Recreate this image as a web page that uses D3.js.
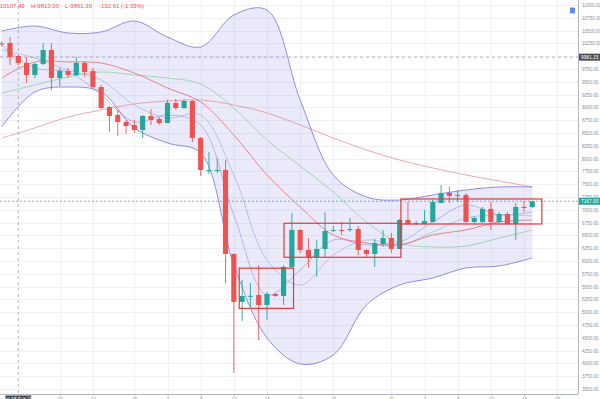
<!DOCTYPE html>
<html>
<head>
<meta charset="utf-8">
<script src="https://cdn.jsdelivr.net/npm/d3@7"></script>
<style>
html, body { margin: 0; padding: 0; background: #fff; overflow: hidden; }
svg { display: block; font-family: "Liberation Sans", Arial, sans-serif; }
</style>
</head>
<body>
<svg id="chart" width="600" height="399"></svg>
<script>
// daily candles, 13 Feb .. 17 Apr
var opens  = [10250,10258,10004,9867,9633,9848,10121,9574,9711,9633,9867,9711,9399,9008,8852,8715,8656,8559,8832,8774,
              8695,9086,8988,9125,8403,7758,7758,7778,6137,5200,5305,5336,5141,5356,5317,5883,6606,6215,6078,6235,
              6590,6606,6610,6625,6215,6137,6332,6449,6235,6801,6723,6723,6762,7133,7328,7280,7290,6762,6762,7016,
              6762,6918,6723,7055,7055];
var highs  = [10290,10375,10023,9984,9867,10258,10258,9770,9770,9984,9906,9770,9438,9027,8949,8754,8754,8852,8969,8813,
              9145,9164,9145,9145,8420,8129,8012,7973,6150,5629,5571,5922,5395,5375,5922,6938,6625,6449,6410,6957,
              6684,6762,6840,6684,6235,6430,6606,6547,6821,7153,6780,6996,7192,7485,7445,7387,7328,6870,7055,7153,
              6957,6957,7133,7172,7172];
var lows   = [10190,9828,9828,9477,9574,9828,9340,9418,9574,9613,9594,9379,8969,8520,8442,8481,8500,8403,8656,8656,
              8695,8949,8969,8324,7660,7699,7719,5571,3813,4829,5102,4457,4848,5297,5141,5864,6150,5864,5688,6078,
              6567,6508,6567,6118,6059,5883,6274,6157,6235,6703,6700,6703,6762,7133,7133,7153,6743,6740,6740,6606,
              6743,6703,6414,6957,7036];
var closes = [10230,9984,9867,9633,9848,10121,9574,9711,9633,9867,9691,9399,8988,8832,8715,8637,8559,8832,8754,8695,
              9086,8988,9125,8403,7778,7778,7778,6137,5200,5317,5320,5141,5356,5317,5883,6606,6215,6078,6235,6586,
              6606,6590,6625,6215,6137,6352,6449,6235,6801,6723,6740,6781,7153,7328,7270,7290,6762,6840,7016,6762,
              6918,6723,7055,7040,7167];

// indicator lines, sampled every 4 candles
var lineIdx   = [0,4,8,12,16,20,24,28,32,36,40,44,48,52,56,60,64];
var bbUpper   = [10492,10590,10453,10473,10687,10375,10180,10805,10902,9145,7680,7250,7192,7290,7387,7446,7446];
var bbLower   = [8617,9301,9398,9301,8598,8305,8109,5922,4497,3989,4165,5141,5531,5668,5864,5903,6059];
var bbMiddle  = [9574,9887,9887,9867,9672,9379,9106,8461,7680,7055,6508,6352,6313,6508,6606,6762,6801];
var maFast    = [10219,9770,9692,9242,8715,8852,8656,6899,5336,5824,6410,6313,6371,6762,7094,6899,6957];
var maSlow    = [10121,9965,9730,9535,9047,8793,8852,7680,6020,5531,6117,6410,6313,6567,6840,6899,6879];
var maGreen   = [9281,9438,9594,9692,9633,9574,9457,8988,8363,7855,7348,6762,6352,6274,6293,6449,6606];
var maLong    = [8402,8598,8813,8949,9067,9125,9145,9047,8891,8656,8402,8168,7973,7817,7680,7563,7446];

// marked ranges (candle index from/to, price top/bottom)
var boxes = [
        {from: 28.65, to: 35.2,  top: 5860, bottom: 5075},
        {from: 34.05, to: 48.15, top: 6737, bottom: 6073},
        {from: 48.15, to: 65.15, top: 7211, bottom: 6723}
];

var priceTicks = d3.range(3500, 11001, 250);
var dateTicks  = [7, 11, 16, 20, 24, 28, 32, 36, 40, 47, 51, 55, 59, 63, 67];
var startDate  = new Date(2020, 1, 13);

var crossIdx   = 2;
var crossPrice = 9981.15;
var header     = ["O-10107.49", "H-9813.00", "L-9861.30", "-132.61 (-1.33%)"];
var headerX    = [-7, 31, 65, 99];

var upColor   = "#26a69a";
var downColor = "#ef5350";

var svg = d3.select("#chart");
var plotR = 578, plotB = 394;

var x = d3.scaleLinear().domain([0, 64]).range([1.7, 532.3]);
var y = d3.scaleLinear().domain([3500, 11000]).range([389, 5]);

svg.append("defs").append("clipPath").attr("id", "plot")
        .append("rect").attr("x", 0).attr("y", 0).attr("width", plotR).attr("height", plotB);

/* grid */
var grid = svg.append("g").attr("clip-path", "url(#plot)");
grid.selectAll(".hg").data(priceTicks).enter().append("line")
        .attr("x1", 0).attr("x2", plotR)
        .attr("y1", function(d) { return Math.round(y(d)) + 0.5; })
        .attr("y2", function(d) { return Math.round(y(d)) + 0.5; })
        .attr("stroke", "#f0f1f4").attr("stroke-width", 1);
grid.selectAll(".vg").data(dateTicks).enter().append("line")
        .attr("x1", function(d) { return Math.round(x(d)) + 0.5; })
        .attr("x2", function(d) { return Math.round(x(d)) + 0.5; })
        .attr("y1", 0).attr("y2", plotB)
        .attr("stroke", "#f0f1f4").attr("stroke-width", 1);

var g = svg.append("g").attr("clip-path", "url(#plot)");

/* bollinger band */
var area = d3.area()
        .x(function(d, i) { return x(lineIdx[i]); })
        .y0(function(d, i) { return y(bbLower[i]); })
        .y1(function(d, i) { return y(bbUpper[i]); })
        .curve(d3.curveCatmullRom);
g.append("path").datum(lineIdx).attr("d", area)
        .attr("fill", "#7474dc").attr("fill-opacity", 0.15);

function drawLine(vals, color, width) {
        var line = d3.line()
                .x(function(d, i) { return x(lineIdx[i]); })
                .y(function(d) { return y(d); })
                .curve(d3.curveCatmullRom);
        g.append("path").datum(vals).attr("d", line)
                .attr("fill", "none").attr("stroke", color).attr("stroke-width", width);
}

drawLine(maLong, "#e8909c", 0.8);
drawLine(maGreen, "#8fcf9f", 0.8);
drawLine(maSlow, "#a9b9d6", 0.8);
drawLine(maFast, "#a6a3e6", 0.8);
drawLine(bbMiddle, "#e36a6a", 0.8);
drawLine(bbUpper, "#6262da", 0.7);
drawLine(bbLower, "#6262da", 0.7);

/* crosshair + last price line */
g.append("line").attr("x1", 0).attr("x2", plotR)
        .attr("y1", y(crossPrice)).attr("y2", y(crossPrice))
        .attr("stroke", "#9598a1").attr("stroke-width", 0.7).attr("stroke-dasharray", "3,3");
g.append("line").attr("x1", x(crossIdx)).attr("x2", x(crossIdx))
        .attr("y1", 0).attr("y2", plotB)
        .attr("stroke", "#9598a1").attr("stroke-width", 0.7).attr("stroke-dasharray", "3,3");
var last = closes[closes.length - 1];
g.append("line").attr("x1", 0).attr("x2", plotR)
        .attr("y1", y(last)).attr("y2", y(last))
        .attr("stroke", upColor).attr("stroke-width", 0.7).attr("stroke-dasharray", "2,2");

/* candles */
var bw = (x(1) - x(0)) * 0.62;
var idx = d3.range(opens.length);
function col(i) { return closes[i] >= opens[i] ? upColor : downColor; }

g.selectAll(".wick").data(idx).enter().append("line")
        .attr("x1", function(i) { return x(i); })
        .attr("x2", function(i) { return x(i); })
        .attr("y1", function(i) { return y(highs[i]); })
        .attr("y2", function(i) { return y(lows[i]); })
        .attr("stroke", col).attr("stroke-width", 0.9);

g.selectAll(".body").data(idx).enter().append("rect")
        .attr("x", function(i) { return x(i) - bw / 2; })
        .attr("y", function(i) { return y(Math.max(opens[i], closes[i])); })
        .attr("width", bw)
        .attr("height", function(i) { return Math.max(1, Math.abs(y(opens[i]) - y(closes[i]))); })
        .attr("fill", col);

/* boxes */
g.selectAll(".box").data(boxes).enter().append("rect")
        .attr("x", function(d) { return x(d.from); })
        .attr("y", function(d) { return y(d.top); })
        .attr("width", function(d) { return x(d.to) - x(d.from); })
        .attr("height", function(d) { return y(d.bottom) - y(d.top); })
        .attr("fill", "none").attr("stroke", "#e0393e").attr("stroke-width", 1.2);

/* axes */
var shownTicks = priceTicks.filter(function(d) { return Math.abs(y(d) - y(crossPrice)) > 4; });
var yAxis = d3.axisRight(y).tickValues(shownTicks).tickSize(0).tickPadding(4)
        .tickFormat(d3.format(".2f"));
var ya = svg.append("g").attr("transform", "translate(" + plotR + ",0)").call(yAxis);
ya.select(".domain").remove();
ya.selectAll("text").attr("font-size", "4.6px").attr("fill", "#8a8d96")
        .attr("font-family", "Liberation Sans, Arial, sans-serif");

var fmt = d3.timeFormat("%-d");
var xAxis = d3.axisBottom(x).tickValues(dateTicks).tickSize(2).tickPadding(2)
        .tickFormat(function(d) { return fmt(d3.timeDay.offset(startDate, d)); });
var xa = svg.append("g").attr("transform", "translate(0," + plotB + ")").call(xAxis);
xa.select(".domain").remove();
xa.selectAll("line").attr("stroke", "#b2b5be");
xa.selectAll("text").attr("font-size", "4.6px").attr("fill", "#8a8d96")
        .attr("font-family", "Liberation Sans, Arial, sans-serif");

svg.append("line").attr("x1", plotR + 0.5).attr("x2", plotR + 0.5).attr("y1", 0).attr("y2", plotB)
        .attr("stroke", "#b2b5be").attr("stroke-width", 1);
svg.append("line").attr("x1", 0).attr("x2", plotR).attr("y1", plotB + 0.5).attr("y2", plotB + 0.5)
        .attr("stroke", "#b2b5be").attr("stroke-width", 1);

/* axis labels */
function priceTag(p, fill) {
        svg.append("rect").attr("x", plotR + 1).attr("y", y(p) - 3.5)
                .attr("width", 21).attr("height", 7).attr("fill", fill);
        svg.append("text").attr("x", plotR + 3).attr("y", y(p) + 1.7)
                .attr("font-size", "4.8px").attr("fill", "#fff").text(p.toFixed(2));
}
priceTag(crossPrice, "#4c4e55");
priceTag(last, upColor);

svg.append("rect").attr("x", x(crossIdx) - 13).attr("y", plotB + 1.5)
        .attr("width", 26).attr("height", 7).attr("fill", "#4c4e55");
svg.append("text").attr("x", x(crossIdx)).attr("y", plotB + 7).attr("text-anchor", "middle")
        .attr("font-size", "4.8px").attr("fill", "#fff")
        .text(d3.timeFormat("%a %d %b '%y")(d3.timeDay.offset(startDate, crossIdx)));

/* legend icon */
svg.append("rect").attr("x", 570).attr("y", 7.5).attr("width", 5).attr("height", 6)
        .attr("rx", 0.6).attr("fill", "#5b8def");

/* header */
svg.selectAll(".hdr").data(header).enter().append("text")
        .attr("x", function(d, i) { return headerX[i]; })
        .attr("y", 8)
        .attr("font-size", "6px").attr("fill", "#ef5350")
        .text(function(d) { return d; });
</script>
</body>
</html>
